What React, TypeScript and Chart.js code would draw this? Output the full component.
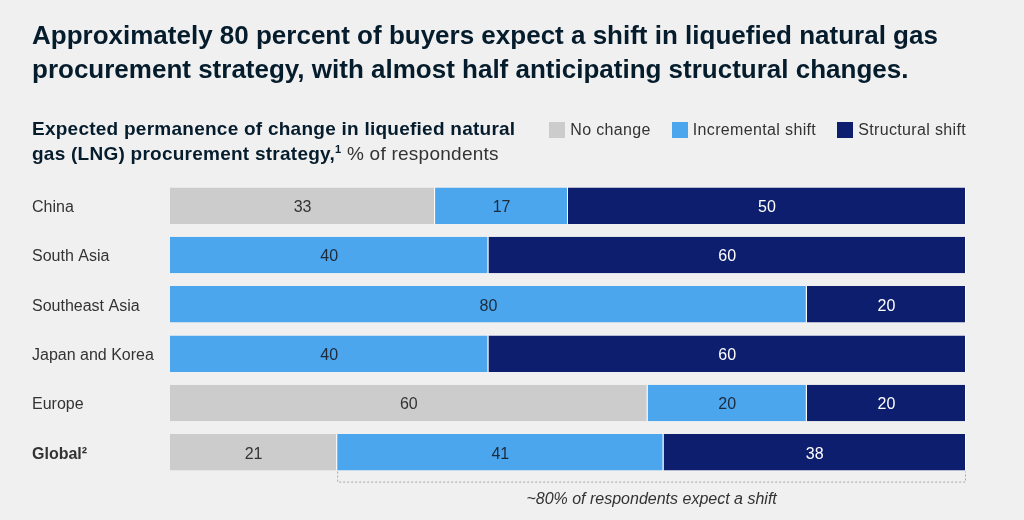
import { useEffect, useRef } from "react"
import { Chart, registerables, type ChartConfiguration, type Plugin } from "chart.js"

Chart.register(...registerables)

const regions = ["China", "South Asia", "Southeast Asia", "Japan and Korea", "Europe", "Global²"]
// China is split in thirds (shown rounded as 33 / 17 / 50)
const noChange = [33.3, 0, 0, 0, 60, 21]
const incrementalShift = [16.7, 40, 80, 40, 20, 41]
const structuralShift = [50, 60, 20, 60, 20, 38]

const seriesNames = ["No change", "Incremental shift", "Structural shift"]
const seriesColors = ["#cccccc", "#4ba6ee", "#0e1e6e"]
const labelColors = ["#333333", "#1c2a3a", "#ffffff"]

const FONT = "'Liberation Sans', Arial, sans-serif"
const INK = "#051c2c"
const TEXT = "#333333"

// numbers centred in each bar segment
const valueLabels: Plugin<"bar"> = {
  id: "valueLabels",
  afterDatasetsDraw(chart) {
    const { ctx } = chart
    ctx.save()
    ctx.font = `16px ${FONT}`
    ctx.textAlign = "center"
    ctx.textBaseline = "middle"
    chart.data.datasets.forEach((ds, di) => {
      const meta = chart.getDatasetMeta(di)
      meta.data.forEach((el: any, i) => {
        const v = ds.data[i] as number
        if (!v) return
        ctx.fillStyle = labelColors[di]
        ctx.fillText(String(Math.round(v)), (el.x + el.base) / 2, el.y + 2)
      })
    })
    ctx.restore()
  },
}

// dotted bracket under the Global bar
const shiftBracket: Plugin<"bar"> = {
  id: "shiftBracket",
  afterDraw(chart) {
    const { ctx } = chart
    const x = chart.scales.x
    const last = regions.length - 1
    const el: any = chart.getDatasetMeta(0).data[last]
    const x0 = x.getPixelForValue(noChange[last])
    const x1 = x.getPixelForValue(100)
    const top = el.y + el.height / 2 + 1
    const y = top + 10
    ctx.save()
    ctx.strokeStyle = "#a8a8a8"
    ctx.lineWidth = 1
    ctx.setLineDash([2, 2])
    ctx.beginPath()
    ctx.moveTo(x0 + 0.5, top)
    ctx.lineTo(x0 + 0.5, y + 0.5)
    ctx.lineTo(x1 - 0.5, y + 0.5)
    ctx.lineTo(x1 - 0.5, top)
    ctx.stroke()
    ctx.setLineDash([])
    ctx.font = `italic 16px ${FONT}`
    ctx.fillStyle = TEXT
    ctx.textAlign = "center"
    ctx.textBaseline = "middle"
    ctx.fillText("~80% of respondents expect a shift", (x0 + x1) / 2, y + 18)
    ctx.restore()
  },
}

function LngChart() {
  const chartRef = useRef<HTMLCanvasElement>(null)
  const chartInstance = useRef<Chart | null>(null)

  useEffect(() => {
    if (!chartRef.current) return
    if (chartInstance.current) chartInstance.current.destroy()
    const ctx = chartRef.current.getContext("2d")
    if (!ctx) return

    const values = [noChange, incrementalShift, structuralShift]

    const config: ChartConfiguration<"bar"> = {
      type: "bar",
      data: {
        labels: regions,
        datasets: values.map((data, i) => ({
          label: seriesNames[i],
          data,
          backgroundColor: seriesColors[i],
          borderColor: "#ffffff",
          borderWidth: { left: 0, right: 1, top: 0, bottom: 0 },
          borderSkipped: false,
          barPercentage: 0.74,
          categoryPercentage: 1,
        })),
      },
      options: {
        indexAxis: "y",
        animation: false,
        responsive: true,
        maintainAspectRatio: false,
        layout: { padding: { top: 181, bottom: 43, left: 32, right: 58 } },
        plugins: {
          legend: { display: false },
          tooltip: { enabled: false },
        },
        scales: {
          x: {
            stacked: true,
            min: 0,
            max: 100,
            display: false,
          },
          y: {
            stacked: true,
            grid: { display: false },
            border: { display: false },
            afterFit: (scale) => {
              scale.width = 138
            },
            ticks: {
              crossAlign: "far",
              labelOffset: 2,
              color: TEXT,
              font: (c: any) =>
                c.index === regions.length - 1
                  ? { family: FONT, size: 16, weight: "bold" }
                  : { family: FONT, size: 16 },
            },
          },
        },
      },
      plugins: [valueLabels, shiftBracket],
    }

    chartInstance.current = new Chart(ctx, config)

    return () => {
      if (chartInstance.current) {
        chartInstance.current.destroy()
        chartInstance.current = null
      }
    }
  }, [])

  return (
    <div style={{ position: "absolute", left: 0, top: 0, width: 1024, height: 520 }}>
      <canvas ref={chartRef}></canvas>
    </div>
  )
}

export default function App() {
  return (
    <div
      style={{
        position: "fixed",
        inset: 0,
        background: "#f0f0f0",
        fontFamily: FONT,
        overflow: "hidden",
      }}
    >
      <LngChart />
      <div
        style={{
          position: "absolute",
          left: 32,
          top: 18,
          fontSize: 26,
          lineHeight: "34px",
          fontWeight: "bold",
          color: INK,
          whiteSpace: "nowrap",
        }}
      >
        Approximately 80 percent of buyers expect a shift in liquefied natural gas
        <br />
        procurement strategy, with almost half anticipating structural changes.
      </div>
      <div
        style={{
          position: "absolute",
          left: 32,
          top: 116,
          fontSize: 19,
          letterSpacing: 0.25,
          lineHeight: "25px",
          color: INK,
          whiteSpace: "nowrap",
        }}
      >
        <b>Expected permanence of change in liquefied natural</b>
        <br />
        <b>
          gas (LNG) procurement strategy,<sup style={{ fontSize: 11, lineHeight: 0 }}>1</sup>
        </b>{" "}
        <span style={{ color: TEXT }}>% of respondents</span>
      </div>
      <div
        style={{
          position: "absolute",
          right: 58,
          top: 121,
          display: "flex",
          gap: 21,
          fontSize: 16,
          letterSpacing: 0.35,
          lineHeight: "18px",
          color: TEXT,
        }}
      >
        {seriesNames.map((name, i) => (
          <div key={name} style={{ display: "flex", alignItems: "center", gap: 5 }}>
            <span style={{ width: 16, height: 16, background: seriesColors[i], display: "inline-block" }} />
            <span>{name}</span>
          </div>
        ))}
      </div>
    </div>
  )
}
